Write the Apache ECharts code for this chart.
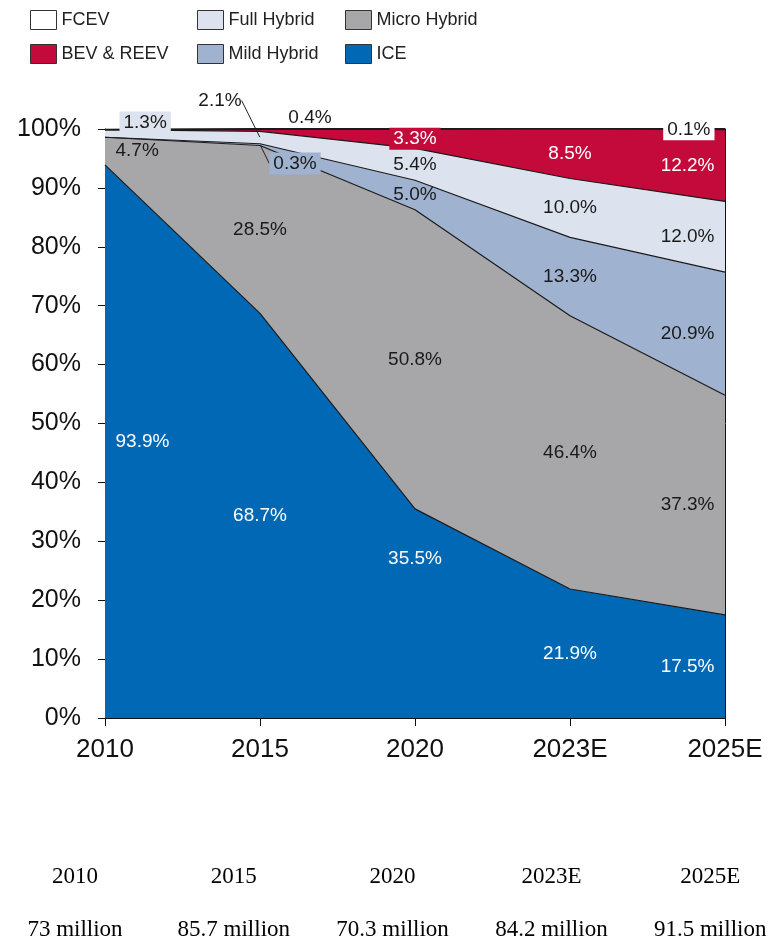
<!DOCTYPE html>
<html>
<head>
<meta charset="utf-8">
<script src="https://cdn.jsdelivr.net/npm/echarts@6.0.0/dist/echarts.min.js"></script>
<style>
  html, body { margin: 0; padding: 0; background: #fff; }
  #chart { width: 768px; height: 943px; }
</style>
</head>
<body>
<div id="chart"></div>
<script>
// Categories and shares (%) per powertrain, bottom of the stack first
const years = ['2010', '2015', '2020', '2023E', '2025E'];
const ice = [93.9, 68.7, 35.5, 21.9, 17.5];
const microHybrid = [4.7, 28.5, 50.8, 46.4, 37.3];
const mildHybrid = [0, 0.3, 5.0, 13.3, 20.9];
const fullHybrid = [1.3, 2.1, 5.4, 10.0, 12.0];
const bevReev = [0, 0.4, 3.3, 8.5, 12.2];
const fcev = [0, 0, 0, 0, 0.1];

// Total market per year (million vehicles), shown under the chart
const totalYears = ['2010', '2015', '2020', '2023E', '2025E'];
const totalMillions = [73, 85.7, 70.3, 84.2, 91.5];

const FONT = '"Liberation Sans", Arial, sans-serif';
const SERIF = '23px "Liberation Serif", "Times New Roman", serif';

const stackDefs = [
    { name: 'ICE', data: ice, color: '#0068b5', text: '#ffffff' },
    { name: 'Micro Hybrid', data: microHybrid, color: '#a7a7aa', text: '#1a1a1a' },
    { name: 'Mild Hybrid', data: mildHybrid, color: '#9fb2cf', text: '#1a1a1a' },
    { name: 'Full Hybrid', data: fullHybrid, color: '#dde3ee', text: '#1a1a1a' },
    { name: 'BEV & REEV', data: bevReev, color: '#c30a3a', text: '#ffffff' },
    { name: 'FCEV', data: fcev, color: '#ffffff', text: '#1a1a1a' }
];

// hand placed labels (mostly the thin slices near the top)
const labelTweaks = {
    'ICE|2': { dy: -55 },
    'Full Hybrid|0': { dx: 4, dy: -11, bg: true },
    'Full Hybrid|1': { dx: -40, dy: -37, line: true },
    'Mild Hybrid|1': { dx: 35, dy: 19, line: true, bg: true },
    'BEV & REEV|1': { dx: 50, dy: -12, color: '#1a1a1a' },
    'BEV & REEV|2': { bg: true },
    'FCEV|4': { bg: true }
};

const chart = echarts.init(document.getElementById('chart'), null, { renderer: 'canvas' });

const series = [];
const labelSeries = [];
const layoutMap = {};
const base = years.map(() => 0);

stackDefs.forEach(function (def) {
    series.push({
        name: def.name,
        type: 'line',
        stack: 'share',
        data: def.data,
        showSymbol: false,
        symbol: 'none',
        silent: true,
        lineStyle: { color: '#1a1a1a', width: def.name === 'FCEV' ? 1.8 : 1.2 },
        areaStyle: { color: def.color, opacity: 1 },
        emphasis: { disabled: true },
        z: 2
    });

    const items = [];
    const moves = [];
    def.data.forEach(function (v, i) {
        if (v > 0) {
            const t = labelTweaks[def.name + '|' + i] || {};
            const lbl = { color: t.color || def.text };
            if (i === 0) {
                lbl.position = 'right';
                lbl.distance = 10;
            } else if (i === years.length - 1) {
                lbl.position = 'left';
                lbl.distance = 10;
            } else {
                lbl.position = 'inside';
            }
            if (t.bg) {
                lbl.backgroundColor = def.color;
                lbl.padding = [2, 4, 1, 4];
            }
            items.push({
                value: [i, base[i] + v / 2, v],
                label: lbl,
                labelLine: { show: !!t.line }
            });
            moves.push(t.dx || t.dy ? { dx: t.dx || 0, dy: t.dy || 0 } : null);
        }
        base[i] += v;
    });

    labelSeries.push({
        name: def.name + ' labels',
        type: 'scatter',
        data: items,
        symbolSize: 1,
        itemStyle: { color: 'rgba(0,0,0,0)', opacity: 1 },
        silent: true,
        z: 10,
        label: {
            show: true,
            fontFamily: FONT,
            fontSize: 19,
            formatter: function (p) { return p.value[2].toFixed(1) + '%'; }
        },
        labelLine: {
            show: false,
            lineStyle: { color: '#222', width: 1 }
        },
        _moves: moves
    });
});

const allSeries = series.concat(labelSeries);
allSeries.forEach(function (s, idx) {
    if (s._moves) {
        layoutMap[idx] = s._moves;
        delete s._moves;
        s.labelLayout = function (params) {
            const m = (layoutMap[params.seriesIndex] || [])[params.dataIndex];
            return m ? { dx: m.dx, dy: m.dy } : {};
        };
    }
});

function legendFor(names, left) {
    return {
        orient: 'vertical',
        left: left,
        top: 10,
        padding: 0,
        itemWidth: 26,
        itemHeight: 19,
        itemGap: 14,
        icon: 'rect',
        selectedMode: false,
        textStyle: { fontFamily: FONT, fontSize: 18, color: '#222' },
        data: names.map(function (n) {
            const d = stackDefs.find(function (s) { return s.name === n; });
            return {
                name: n,
                itemStyle: { color: d.color, borderColor: '#333', borderWidth: 1 },
                lineStyle: { opacity: 0 }
            };
        })
    };
}

const option = {
    backgroundColor: '#ffffff',
    animation: false,
    legend: [
        legendFor(['FCEV', 'BEV & REEV'], 30),
        legendFor(['Full Hybrid', 'Mild Hybrid'], 197),
        legendFor(['Micro Hybrid', 'ICE'], 345)
    ],
    grid: { left: 105, right: 43, top: 129, bottom: 225, containLabel: false },
    xAxis: {
        type: 'category',
        data: years,
        boundaryGap: false,
        axisLine: { show: true, lineStyle: { color: '#111', width: 1 } },
        axisTick: { show: true, length: 8, lineStyle: { color: '#111' } },
        axisLabel: { fontFamily: FONT, fontSize: 26, color: '#111', margin: 19 },
        splitLine: { show: false }
    },
    yAxis: [
        {
            type: 'value',
            min: 0,
            max: 100,
            interval: 10,
            axisLine: { show: true, lineStyle: { color: '#111', width: 1 } },
            axisTick: { show: true, length: 7, lineStyle: { color: '#111' } },
            axisLabel: { fontFamily: FONT, fontSize: 25, color: '#111', margin: 24, formatter: '{value}%' },
            splitLine: { show: false }
        },
        {
            type: 'value',
            position: 'right',
            min: 0,
            max: 100,
            axisLine: { show: true, lineStyle: { color: '#111', width: 1 } },
            axisTick: { show: false },
            axisLabel: { show: false },
            splitLine: { show: false }
        }
    ],
    series: allSeries,
    graphic: totalYears.map(function (y, i) {
        return {
            type: 'group',
            silent: true,
            children: [
                {
                    type: 'text',
                    x: 75 + i * 158.8,
                    y: 877,
                    style: { text: y, font: SERIF, fill: '#000', align: 'center', verticalAlign: 'middle' }
                },
                {
                    type: 'text',
                    x: 75 + i * 158.8,
                    y: 930,
                    style: { text: totalMillions[i] + ' million', font: SERIF, fill: '#000', align: 'center', verticalAlign: 'middle' }
                }
            ]
        };
    })
};

chart.setOption(option);
</script>
</body>
</html>
